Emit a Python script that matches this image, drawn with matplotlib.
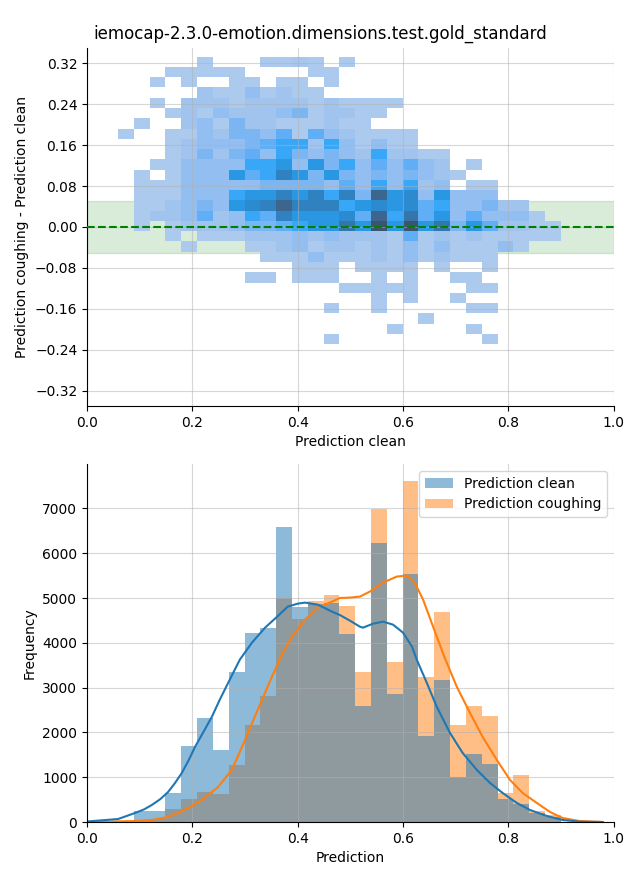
import numpy as np
import matplotlib
matplotlib.use("Agg")
import matplotlib.pyplot as plt
from matplotlib.colors import ListedColormap, to_rgba
from seaborn.external import husl

title = "iemocap-2.3.0-emotion.dimensions.test.gold_standard"

# bin edges shared by both panels (x) and the difference axis (y)
x_lo, x_hi, nx = 0.0588, 0.8994, 28
y_lo, y_hi, ny = -0.229, 0.333, 28

# 2D histogram counts, rows from top (y high) to bottom (y low), 28 x 28
counts = [
    [0,0,0,0,0,20,0,0,0,20,20,60,20,0,20,0,0,0,0,0,0,0,0,0,0,0,0,0],
    [0,0,0,20,20,20,20,20,0,0,0,0,20,20,0,0,0,0,0,0,0,0,0,0,0,0,0,0],
    [0,0,20,0,20,0,0,20,20,0,20,20,0,20,0,0,0,0,0,0,0,0,0,0,0,0,0,0],
    [0,0,0,0,0,110,20,20,210,20,110,20,20,0,0,0,0,0,0,0,0,0,0,0,0,0,0,0],
    [0,0,20,0,110,110,110,20,110,110,110,110,20,110,20,20,20,20,0,0,0,0,0,0,0,0,0,0],
    [0,0,0,20,110,20,210,110,110,110,210,360,20,110,110,20,20,0,0,0,0,0,0,0,0,0,0,0],
    [0,20,0,0,110,210,20,360,110,110,20,20,20,110,20,20,0,0,0,0,0,0,0,0,0,0,0,0],
    [20,0,0,20,20,210,110,360,360,210,500,20,500,210,110,20,20,20,20,0,0,0,0,0,0,0,0,0],
    [0,0,0,20,110,210,210,210,360,500,640,640,110,640,210,20,210,20,20,0,0,0,0,0,0,0,0,0],
    [0,0,0,20,110,360,110,360,500,210,640,360,210,360,210,110,640,110,110,20,20,0,0,0,0,0,0,0],
    [0,0,20,20,210,210,210,210,640,640,900,210,900,360,640,210,500,210,500,210,110,0,20,0,0,0,0,0],
    [0,20,0,20,210,210,210,900,500,640,1250,900,360,900,360,210,360,210,360,210,110,20,0,0,0,0,0,0],
    [0,20,20,20,210,210,210,210,210,360,360,360,360,210,500,210,640,210,640,110,210,0,20,20,0,0,0,0],
    [0,20,20,20,210,210,210,640,900,900,1250,900,1250,640,1250,360,1700,900,1100,210,900,210,210,210,0,0,0,0],
    [0,20,20,110,210,360,210,900,1100,1250,1700,1250,1250,1250,640,900,1100,900,1100,500,640,210,210,360,110,110,0,0],
    [0,20,110,110,210,500,110,210,640,500,1250,900,900,900,1100,500,1700,640,1450,500,900,210,500,210,210,210,20,0],
    [0,20,0,20,110,110,110,210,360,360,500,640,900,900,1450,900,2000,900,2000,900,1450,360,900,500,110,110,20,20],
    [0,0,0,20,0,20,20,20,110,110,110,210,110,210,110,110,110,20,500,20,110,20,110,20,20,20,20,20],
    [0,0,0,0,20,0,0,0,20,20,110,210,20,110,110,20,110,20,210,20,210,20,20,20,210,20,0,0],
    [0,0,0,0,0,0,0,0,0,20,20,20,210,20,20,20,110,20,210,20,110,20,20,20,0,0,0,0],
    [0,0,0,0,0,0,0,0,0,0,0,20,20,20,0,20,20,20,20,0,20,0,0,20,0,0,0,0],
    [0,0,0,0,0,0,0,0,20,20,0,20,20,20,0,0,20,0,20,0,0,20,20,0,0,0,0,0],
    [0,0,0,0,0,0,0,0,0,0,0,0,0,0,20,20,20,20,20,0,0,0,20,20,0,0,0,0],
    [0,0,0,0,0,0,0,0,0,0,0,0,0,0,0,0,20,0,20,0,0,20,0,0,0,0,0,0],
    [0,0,0,0,0,0,0,0,0,0,0,0,0,20,0,0,20,0,0,0,0,0,20,20,0,0,0,0],
    [0,0,0,0,0,0,0,0,0,0,0,0,0,0,0,0,0,0,0,20,0,0,0,0,0,0,0,0],
    [0,0,0,0,0,0,0,0,0,0,0,0,0,0,0,0,0,20,0,0,0,0,20,0,0,0,0,0],
    [0,0,0,0,0,0,0,0,0,0,0,0,0,20,0,0,0,0,0,0,0,0,0,20,0,0,0,0],
]

# 1D histogram counts per bin
clean = [10, 246, 246, 648, 1700, 2325, 1610, 3354, 4226, 4338, 6574, 4800, 4860, 4895,
         4190, 2590, 6238, 2860, 5528, 1920, 3175, 1006, 1520, 1297, 514, 402, 201, 115]
coughing = [0, 30, 60, 290, 514, 670, 626, 1275, 2170, 2817, 5009, 4530, 4930, 5068,
            4820, 3350, 6976, 3580, 7610, 3240, 4690, 2170, 2590, 2370, 650, 1051, 246, 157]

# kde curves
kde_clean_x = [0.0, 0.059, 0.091, 0.108, 0.123, 0.139, 0.154, 0.167, 0.180, 0.193, 0.205,
               0.221, 0.237, 0.252, 0.268, 0.290, 0.313, 0.338, 0.361, 0.381, 0.400, 0.414,
               0.438, 0.465, 0.480, 0.499, 0.518, 0.524, 0.543, 0.562, 0.581, 0.600, 0.617,
               0.626, 0.645, 0.664, 0.689, 0.713, 0.740, 0.765, 0.789, 0.816, 0.841, 0.873,
               0.903, 0.935, 0.979]
kde_clean_y = [11, 67, 201, 280, 380, 510, 671, 870, 1096, 1380, 1677,
               2010, 2348, 2730, 3108, 3622, 4002, 4338, 4584, 4807, 4874, 4897,
               4852, 4696, 4620, 4495, 4360, 4338, 4427, 4472, 4405, 4226, 3913,
               3622, 3108, 2571, 1990, 1543, 1163, 872, 648, 425, 268, 134,
               45, 7, 0]
kde_cough_x = [0.0, 0.091, 0.123, 0.154, 0.186, 0.218, 0.249, 0.275, 0.300, 0.324, 0.351,
               0.370, 0.389, 0.414, 0.438, 0.465, 0.480, 0.499, 0.518, 0.537, 0.562, 0.588,
               0.607, 0.622, 0.638, 0.657, 0.679, 0.702, 0.727, 0.751, 0.778, 0.803, 0.827,
               0.854, 0.879, 0.903, 0.935, 0.979]
kde_cough_y = [0, 22, 45, 112, 268, 492, 783, 1163, 1834, 2504, 3242,
               3734, 4137, 4517, 4785, 4919, 5000, 5009, 5031, 5143, 5344, 5478,
               5501, 5344, 4964, 4360, 3667, 3019, 2437, 1901, 1386, 939, 648,
               425, 224, 89, 22, 0]

x_edges = np.linspace(x_lo, x_hi, nx + 1)
y_edges = np.linspace(y_lo, y_hi, ny + 1)
bw = x_edges[1] - x_edges[0]

# seaborn-like sequential colormap from C0
r, g, b, _ = to_rgba("C0")
h, s, _ = husl.rgb_to_husl(r, g, b)
xx = np.linspace(-1, 1, int(1.15 * 256))[:256]
ramp = np.zeros((256, 3))
ramp[:, 0] = h
ramp[:, 1] = s * np.cos(xx)
ramp[:, 2] = np.linspace(35, 80, 256)
cols = np.clip([husl.husl_to_rgb(*hsl) for hsl in ramp], 0, 1)
cmap = ListedColormap(cols[::-1])

fig = plt.figure(figsize=(6.4, 8.8), dpi=100)
ax1 = fig.add_axes([0.136, 0.5386, 0.823, 0.4069])
ax2 = fig.add_axes([0.136, 0.0659, 0.823, 0.4068])

# top panel
grid = np.flipud(np.array(counts, dtype=float))
grid = np.ma.masked_less_equal(grid, 0)
ax1.axhspan(-0.05, 0.05, color="green", alpha=0.15, zorder=0.5)
ax1.pcolormesh(x_edges, y_edges, grid, cmap=cmap, vmin=grid.min(), vmax=grid.max(), zorder=1)
ax1.axhline(0, color="green", ls="--", lw=1.5, zorder=3)
ax1.set_xlim(0, 1)
ax1.set_ylim(-0.35, 0.35)
ax1.set_yticks(np.round(np.arange(-0.32, 0.33, 0.08), 2))
ax1.grid(True, alpha=0.5)
ax1.set_xlabel("Prediction clean")
ax1.set_ylabel("Prediction coughing - Prediction clean")

# bottom panel
ax2.bar(x_edges[:-1], coughing, width=bw, align="edge", color="C1", alpha=0.5, lw=0,
        label="Prediction coughing")
ax2.bar(x_edges[:-1], clean, width=bw, align="edge", color="C0", alpha=0.5, lw=0,
        label="Prediction clean")
ax2.plot(kde_cough_x, kde_cough_y, color="C1", lw=1.5)
ax2.plot(kde_clean_x, kde_clean_y, color="C0", lw=1.5)
ax2.set_xlim(0, 1)
ax2.grid(True, alpha=0.5)
ax2.set_xlabel("Prediction")
ax2.set_ylabel("Frequency")
hd, lb = ax2.get_legend_handles_labels()
ax2.legend(hd[::-1], lb[::-1], loc="upper right")

for ax in (ax1, ax2):
    ax.spines["top"].set_visible(False)
    ax.spines["right"].set_visible(False)

fig.suptitle(title, fontsize=12, y=0.972)
fig.savefig("out.png", dpi=100)
